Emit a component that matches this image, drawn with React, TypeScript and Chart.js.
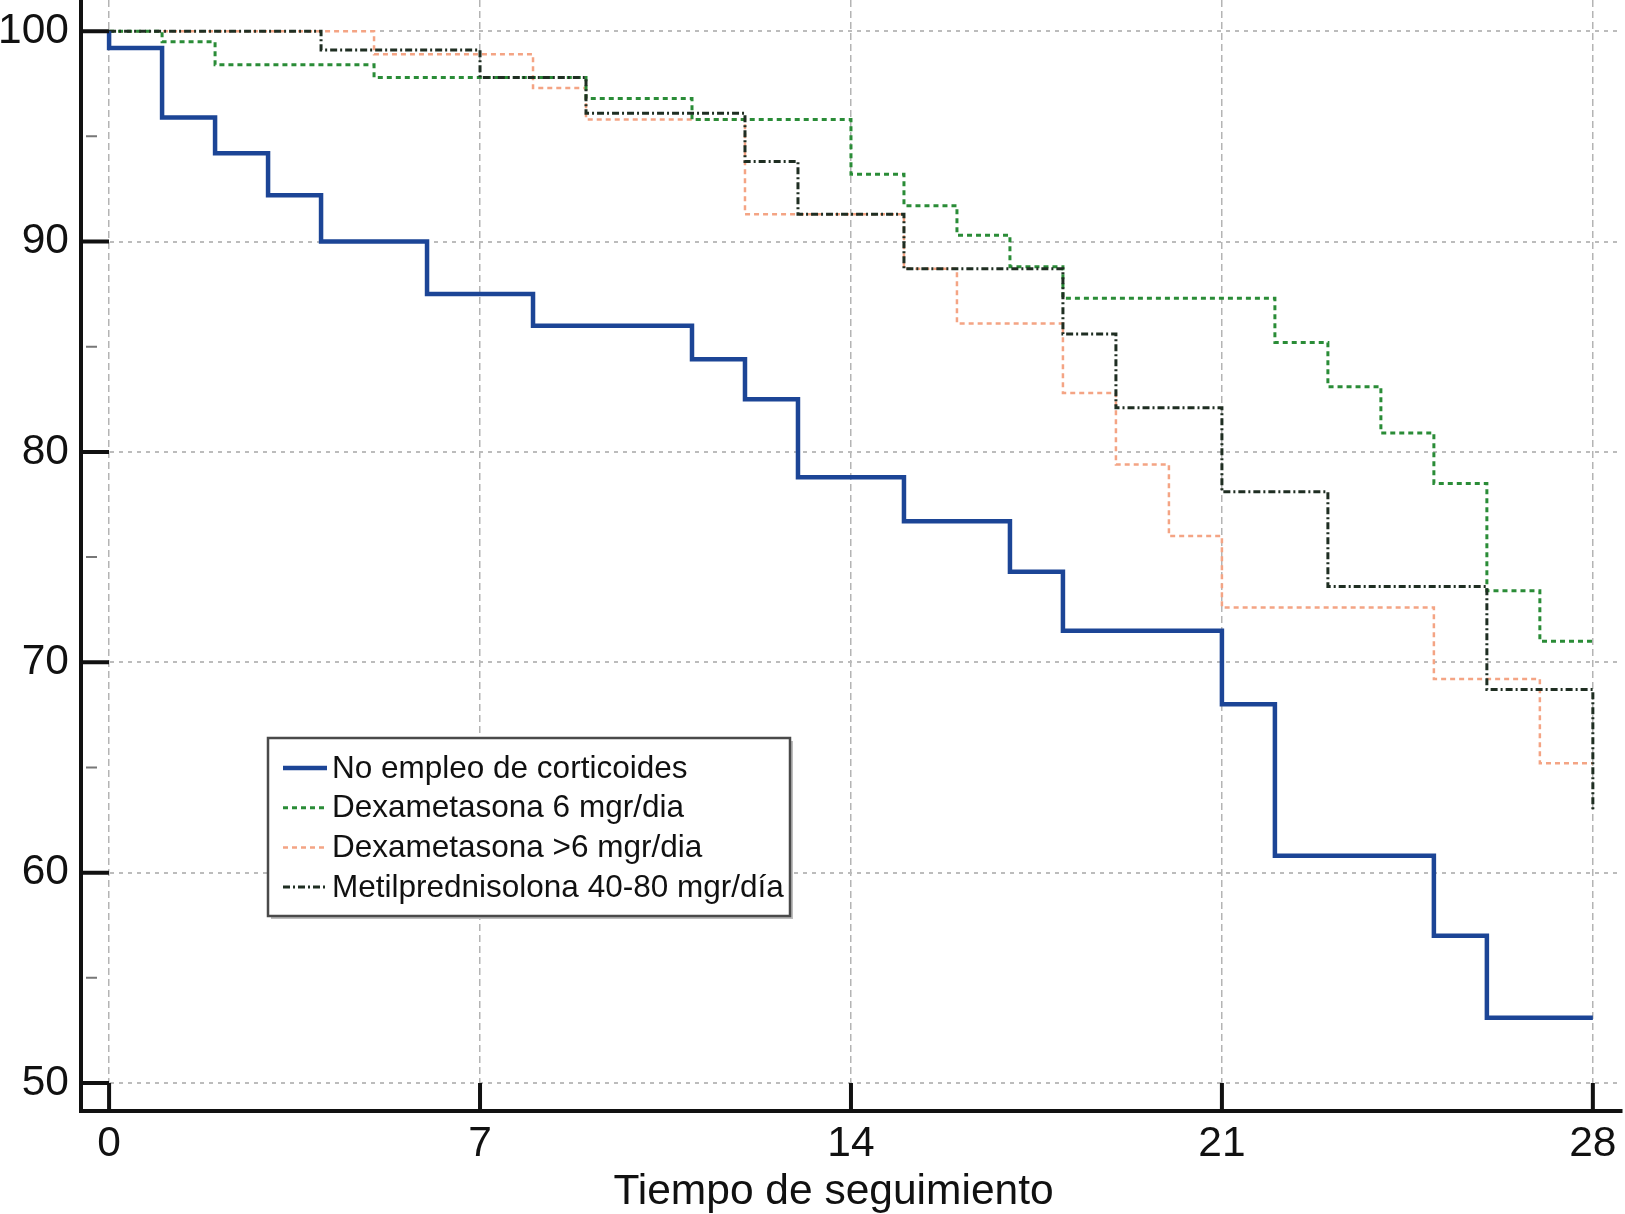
import { useEffect, useRef } from "react";
import { Chart, registerables } from "chart.js";

Chart.register(...registerables);

// axis ticks
const xTicks = [0, 7, 14, 21, 28];
const yTicks = [50, 60, 70, 80, 90, 100];
const yMinorTicks = [55, 65, 75, 85, 95];

// Kaplan-Meier steps: time (days) -> survival (%)
const noCortTimes = [0, 0, 1, 2, 3, 4, 6, 8, 11, 12, 13, 15, 17, 18, 21, 22, 25, 26, 28];
const noCortSurv = [100, 99.2, 95.9, 94.2, 92.2, 90.0, 87.5, 86.0, 84.4, 82.5, 78.8, 76.7, 74.3, 71.5, 68.0, 60.8, 57.0, 53.1, 53.1];

const dexa6Times = [0, 1, 2, 5, 9, 11, 14, 15, 16, 17, 18, 22, 23, 24, 25, 26, 27, 28];
const dexa6Surv = [100, 99.5, 98.4, 97.8, 96.8, 95.8, 93.2, 91.7, 90.3, 88.8, 87.3, 85.2, 83.1, 80.9, 78.5, 73.4, 71.0, 71.0];

const dexaHiTimes = [0, 5, 8, 9, 12, 15, 16, 18, 19, 20, 21, 25, 27, 28];
const dexaHiSurv = [100, 98.9, 97.3, 95.8, 91.3, 88.7, 86.1, 82.8, 79.4, 76.0, 72.6, 69.2, 65.2, 65.2];

const metilTimes = [0, 4, 7, 9, 12, 13, 15, 18, 19, 21, 23, 26, 28];
const metilSurv = [100, 99.1, 97.8, 96.1, 93.8, 91.3, 88.7, 85.6, 82.1, 78.1, 73.6, 68.7, 63.0];

const seriesLabels = [
  "No empleo de corticoides",
  "Dexametasona 6 mgr/dia",
  "Dexametasona >6 mgr/dia",
  "Metilprednisolona 40-80 mgr/día",
];
const xTitle = "Tiempo de seguimiento";

const FONT = "'Liberation Sans', Arial, Helvetica, sans-serif";

const toPoints = (t: number[], s: number[]) => t.map((x, i) => ({ x, y: s[i] }));

const styles = [
  { color: "#1c4596", width: 4.5, dash: [] as number[] },
  { color: "#2a8c37", width: 3, dash: [5, 4] },
  { color: "#f4a484", width: 2.5, dash: [5, 4] },
  { color: "#1f2e22", width: 3, dash: [7, 3, 2, 3] },
];

const axisTicksPlugin = {
  id: "axisTicks",
  afterDatasetsDraw(chart: any) {
    const { ctx, chartArea, scales } = chart;
    ctx.save();
    ctx.strokeStyle = "#111";
    ctx.lineWidth = 4;
    ctx.beginPath();
    yTicks.forEach((v) => {
      const py = scales.y.getPixelForValue(v);
      ctx.moveTo(chartArea.left, py);
      ctx.lineTo(chartArea.left + 28, py);
    });
    xTicks.forEach((v) => {
      const px = scales.x.getPixelForValue(v);
      ctx.moveTo(px, chartArea.bottom);
      ctx.lineTo(px, chartArea.bottom - 28);
    });
    ctx.stroke();
    ctx.strokeStyle = "#777";
    ctx.lineWidth = 2;
    ctx.beginPath();
    yMinorTicks.forEach((v) => {
      const py = scales.y.getPixelForValue(v);
      ctx.moveTo(chartArea.left + 5, py);
      ctx.lineTo(chartArea.left + 16, py);
    });
    ctx.stroke();
    ctx.restore();
  },
};

// x-axis title, a bit left of centre as in the original figure
const xTitlePlugin = {
  id: "xTitle",
  afterDraw(chart: any) {
    const { ctx, chartArea } = chart;
    ctx.save();
    ctx.font = `42.5px ${FONT}`;
    ctx.fillStyle = "#111";
    ctx.textAlign = "center";
    ctx.textBaseline = "alphabetic";
    ctx.fillText(xTitle, (chartArea.left + chartArea.right) / 2 - 18, chartArea.bottom + 93);
    ctx.restore();
  },
};

const legendBoxPlugin = {
  id: "legendBox",
  afterDraw(chart: any) {
    const { ctx, chartArea } = chart;
    const left = chartArea.left + 187;
    const top = chartArea.top + 738;
    const w = 522;
    const h = 178;
    ctx.save();
    ctx.fillStyle = "#bdbdbd";
    ctx.fillRect(left + 3, top + 3, w, h);
    ctx.fillStyle = "#fff";
    ctx.fillRect(left, top, w, h);
    ctx.strokeStyle = "#4a4a4a";
    ctx.lineWidth = 2.5;
    ctx.strokeRect(left, top, w, h);
    ctx.font = `31.5px ${FONT}`;
    ctx.textBaseline = "middle";
    ctx.textAlign = "left";
    seriesLabels.forEach((label, i) => {
      const cy = top + 30 + i * 39.7;
      const st = styles[i];
      ctx.strokeStyle = st.color;
      ctx.lineWidth = st.width;
      ctx.setLineDash(st.dash);
      ctx.beginPath();
      ctx.moveTo(left + 15, cy);
      ctx.lineTo(left + 59, cy);
      ctx.stroke();
      ctx.setLineDash([]);
      ctx.fillStyle = "#111";
      ctx.fillText(label, left + 64, cy + 1);
    });
    ctx.restore();
  },
};

export default function App() {
  const chartRef = useRef<HTMLCanvasElement>(null);
  const chartInstance = useRef<Chart | null>(null);

  useEffect(() => {
    if (!chartRef.current) return;
    if (chartInstance.current) chartInstance.current.destroy();
    const ctx = chartRef.current.getContext("2d");
    if (!ctx) return;

    const series = [
      toPoints(noCortTimes, noCortSurv),
      toPoints(dexa6Times, dexa6Surv),
      toPoints(dexaHiTimes, dexaHiSurv),
      toPoints(metilTimes, metilSurv),
    ];
    // draw order: blue on top, then black, green, orange
    const drawOrder = [0, 3, 1, 2];

    chartInstance.current = new Chart(ctx, {
      type: "line",
      data: {
        datasets: drawOrder.map((i) => ({
          label: seriesLabels[i],
          data: series[i],
          borderColor: styles[i].color,
          borderWidth: styles[i].width,
          borderDash: styles[i].dash,
          stepped: "before" as const,
          pointRadius: 0,
          fill: false,
        })),
      },
      options: {
        animation: false,
        responsive: true,
        maintainAspectRatio: false,
        layout: { padding: { left: 0, right: 3, top: 0, bottom: 0 } },
        plugins: {
          legend: { display: false },
          tooltip: { enabled: false },
        },
        scales: {
          x: {
            type: "linear",
            min: -0.53,
            max: 28.55,
            afterBuildTicks: (scale: any) => {
              scale.ticks = xTicks.map((v) => ({ value: v }));
            },
            afterFit: (scale: any) => {
              scale.height = 103;
              scale.paddingLeft = 0;
              scale.paddingRight = 0;
            },
            grid: {
              color: "#b4b4b4",
              lineWidth: 1.5,
              drawTicks: false,
            },
            border: { display: true, color: "#111", width: 4, dash: [7, 4] },
            ticks: {
              padding: 8,
              color: "#111",
              font: { family: FONT, size: 42.5 },
              maxRotation: 0,
            },
          },
          y: {
            type: "linear",
            min: 48.67,
            max: 101.48,
            afterBuildTicks: (scale: any) => {
              scale.ticks = yTicks.map((v) => ({ value: v }));
            },
            afterFit: (scale: any) => {
              scale.width = 81;
              scale.paddingTop = 0;
              scale.paddingBottom = 0;
            },
            grid: {
              color: "#bcbcbc",
              lineWidth: 2,
              drawTicks: false,
            },
            border: { display: true, color: "#111", width: 4, dash: [4, 5] },
            ticks: {
              padding: 12,
              color: "#111",
              font: { family: FONT, size: 42.5 },
            },
          },
        },
      },
      plugins: [axisTicksPlugin, xTitlePlugin, legendBoxPlugin],
    });

    return () => {
      if (chartInstance.current) {
        chartInstance.current.destroy();
        chartInstance.current = null;
      }
    };
  }, []);

  return (
    <div style={{ position: "fixed", left: 0, top: 0, width: 1625, height: 1214, background: "#fff" }}>
      <canvas ref={chartRef}></canvas>
    </div>
  );
}
